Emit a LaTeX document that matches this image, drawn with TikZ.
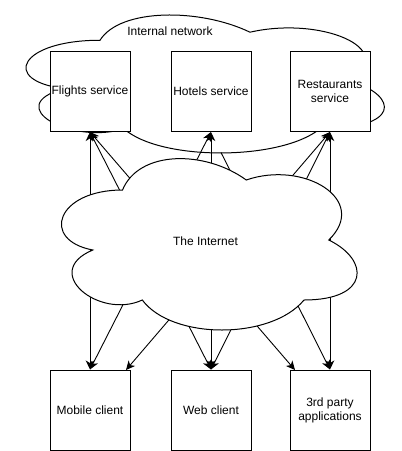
\documentclass[tikz,border=0pt]{standalone}
\usepackage{fontspec}
\setmainfont{Liberation Sans}
\usetikzlibrary{arrows.meta}
\begin{document}
\begin{tikzpicture}[x=1pt,y=-1pt,line width=1pt,
  box/.style={draw, fill=white, line width=1pt, minimum width=80pt, minimum height=80pt, inner sep=0pt, align=center, font=\fontsize{12}{14}\selectfont},
  lbl/.style={inner sep=0pt, font=\fontsize{12}{14}\selectfont},
  link/.style={{Stealth[length=9pt,width=8.5pt,inset=2.6pt]}-{Stealth[length=9pt,width=8.5pt,inset=2.6pt]}, line width=0.9pt},
  onelink/.style={-{Stealth[length=9pt,width=8.5pt,inset=2.6pt]}, line width=0.9pt},
  cloudline/.style={draw=black, line width=1pt}]
\useasboundingbox (0,0) rectangle (402,451);
% internal network cloud
\draw[cloudline] (100,40.25)
  .. controls (20,40.25) and (0,80.5) .. (64,88.55)
  .. controls (0,106.26) and (72,144.9) .. (124,128.8)
  .. controls (160,161) and (280,161) .. (320,128.8)
  .. controls (400,128.8) and (400,96.6) .. (350,80.5)
  .. controls (400,48.3) and (320,16.1) .. (250,32.2)
  .. controls (200,8.05) and (120,8.05) .. (100,40.25) -- cycle;
\node[lbl] (inlbl) at (170,31) {Internal network};
% boxes
\node[box] (fl) at (90,91.5) {Flights service};
\node[box] (ho) at (211,91.5) {Hotels service};
\node[box] (re) at (330,91.5) {Restaurants\\service};
\node[box] (mc) at (90,410) {Mobile client};
\node[box] (wc) at (211,410) {Web client};
\node[box] (tp) at (330,410) {3rd party\\applications};
\coordinate (mc2) at (126,370);
\coordinate (tp2) at (295,370);
\coordinate (innerpt) at (221,152.5);
% connectors
\draw[link] (mc.north) -- (fl.south);
\draw[link] (mc.north) -- (ho.south);
\draw[link] (mc2) -- (re.south);
\draw[link] (wc.north) -- (fl.south);
\draw[link] (wc.north) -- (ho.south);
\draw[link] (wc.north) -- (re.south);
\draw[link] (tp2) -- (fl.south);
\draw[onelink] (innerpt) -- (tp.north);
\draw[link] (tp.north) -- (re.south);
% the internet cloud
\draw[cloudline, fill=white] (122.5,190)
  .. controls (56.5,190) and (40,240) .. (92.8,250)
  .. controls (40,272) and (99.4,320) .. (142.3,300)
  .. controls (172,340) and (271,340) .. (304,300)
  .. controls (370,300) and (370,260) .. (328.75,240)
  .. controls (370,200) and (304,160) .. (246.25,180)
  .. controls (205,150) and (139,150) .. (122.5,190) -- cycle;
\node[lbl] (netlbl) at (205.5,241) {The Internet};
\end{tikzpicture}
\end{document}
